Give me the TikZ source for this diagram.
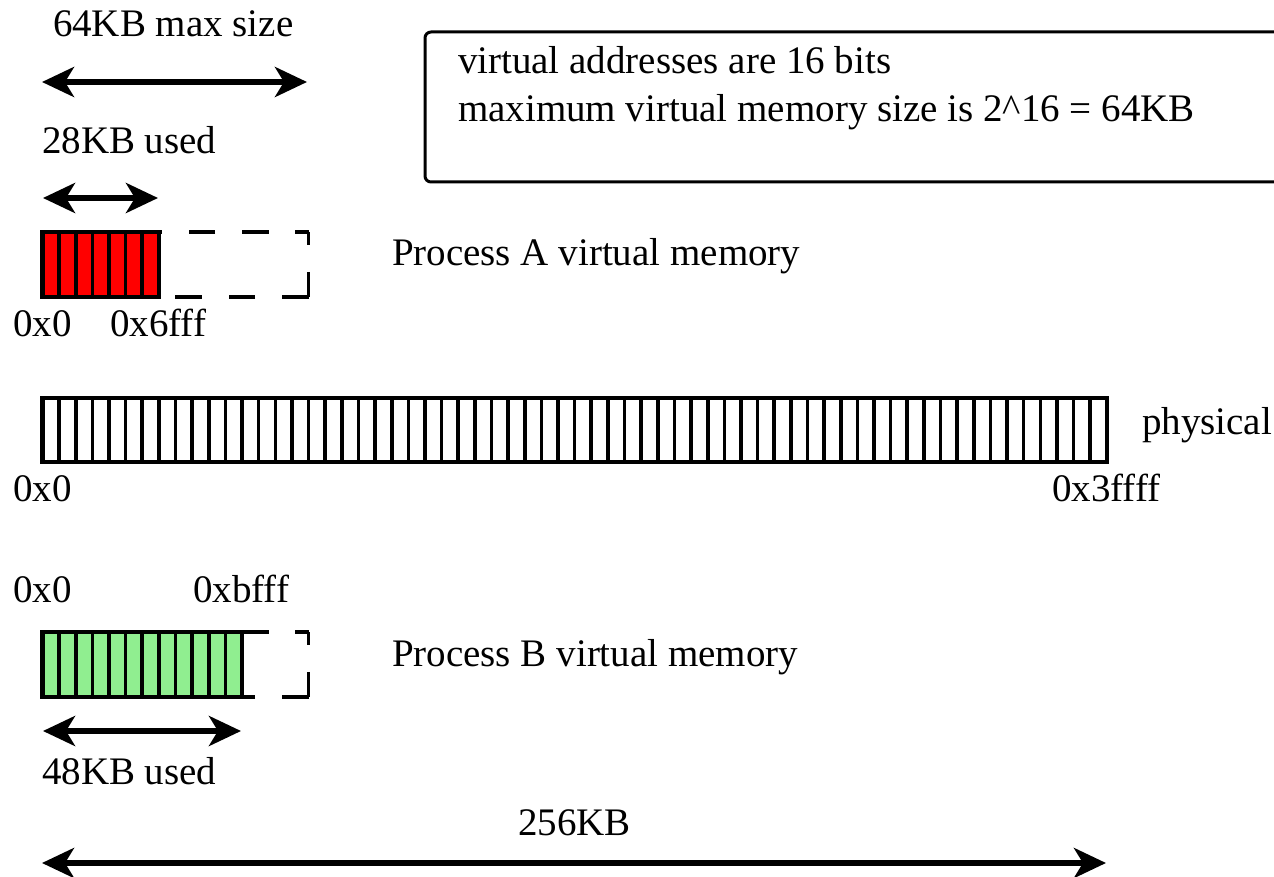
\documentclass[tikz,border=0pt]{standalone}
\usepackage{fontspec}
\setmainfont{Liberation Serif}
\usetikzlibrary{arrows.meta}
\definecolor{procBgreen}{RGB}{144,238,144}
\begin{document}
\begin{tikzpicture}[x=0.5pt,y=-0.5pt,
  lbl/.style={anchor=base west,inner sep=0pt,outer sep=0pt,font=\fontsize{19.5pt}{23pt}\selectfont},
  dimarrow/.style={line width=2.8pt,{Stealth[length=16pt,width=15pt,inset=4.5pt]}-{Stealth[length=16pt,width=15pt,inset=4.5pt]}},
  blockborder/.style={line width=2.2pt},
  celldiv/.style={line width=1.8pt},
  dashline/.style={line width=1.6pt,dash pattern=on 13.33pt off 13.33pt},
  infobox/.style={line width=1.5pt,rounded corners=3pt}]
\useasboundingbox (0,0) rectangle (1274,877);
\clip (0,0) rectangle (1274,877);

% info box
\draw[infobox] (425,32) rectangle (1310,182);
\node[lbl] (info1) at (458,74) {virtual addresses are 16 bits};
\node[lbl] (info2) at (458,122) {maximum virtual memory size is 2\^{}16 = 64KB};

% 64KB arrow
\node[lbl] (max) at (53,37) {64KB max size};
\coordinate (m1) at (42,82);
\coordinate (m2) at (307,82);
\draw[dimarrow] (m1) -- (m2);

% 28KB arrow
\node[lbl] (used28) at (42,154) {28KB used};
\coordinate (u1) at (43,198);
\coordinate (u2) at (158,198);
\draw[dimarrow] (u1) -- (u2);

% Process A block
\fill[red] (42.5,232) rectangle (159,297);
\foreach \i in {1,...,6} \draw[celldiv] ({42.5+\i*16.63},232) -- ++(0,65);
\draw[blockborder] (42.5,232) rectangle (159,297);
\draw[dashline,dash phase=6.67pt] (308.5,232) -- (159,232);
\draw[dashline,dash phase=6.67pt] (308.5,232) -- (308.5,297);
\draw[dashline] (308.5,297) -- (159,297);
\node[lbl] (procA) at (392,266) {Process A virtual memory};
\node[lbl] (a0) at (13,336) {0x0};
\node[lbl] (aend) at (110,336) {0x6fff};

% physical memory
\foreach \i in {1,...,63} \draw[celldiv] ({42.5+\i*16.63},398) -- ++(0,64);
\draw[blockborder] (42.5,398) rectangle (1107,462);
\node[lbl] (phys) at (1142,434) {physical};
\node[lbl] (p0) at (13,501) {0x0};
\node[lbl] (pend) at (1052,501) {0x3ffff};

% Process B block
\node[lbl] (b0) at (13,602) {0x0};
\node[lbl] (bend) at (193,602) {0xbfff};
\fill[procBgreen] (42.5,632) rectangle (242,697);
\foreach \i in {1,...,11} \draw[celldiv] ({42.5+\i*16.63},632) -- ++(0,65);
\draw[blockborder] (42.5,632) rectangle (242,697);
\draw[dashline,dash phase=6.67pt] (308.5,632) -- (242,632);
\draw[dashline,dash phase=6.67pt] (308.5,632) -- (308.5,697);
\draw[dashline] (308.5,697) -- (242,697);
\node[lbl] (procB) at (392,666) {Process B virtual memory};

% 48KB arrow
\coordinate (v1) at (43,731);
\coordinate (v2) at (241,731);
\draw[dimarrow] (v1) -- (v2);
\node[lbl] (used48) at (42,784) {48KB used};

% 256KB arrow
\node[lbl] (total) at (518,835) {256KB};
\coordinate (t1) at (42,863);
\coordinate (t2) at (1106,863);
\draw[dimarrow] (t1) -- (t2);
\end{tikzpicture}
\end{document}
